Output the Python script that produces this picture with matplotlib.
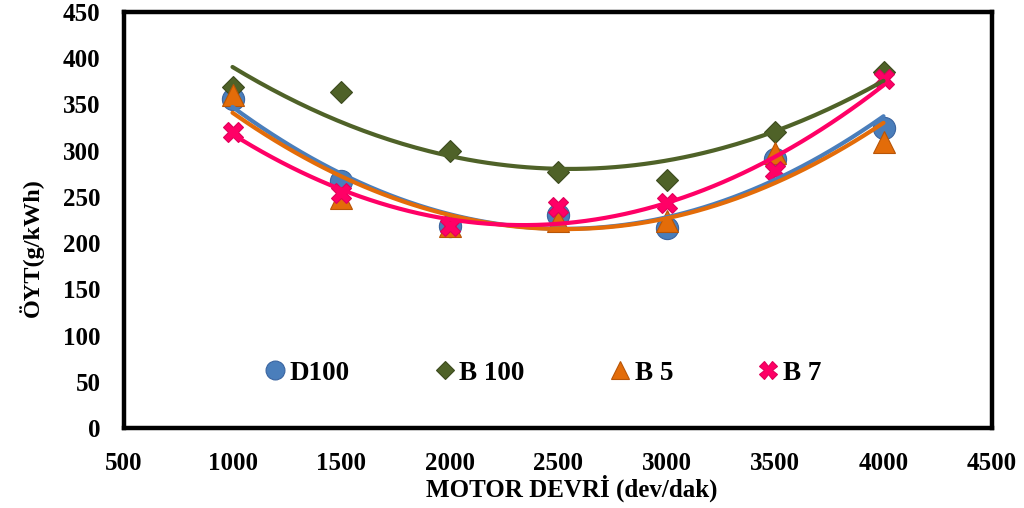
import numpy as np
import matplotlib
matplotlib.use("Agg")
import matplotlib.pyplot as plt
from matplotlib.lines import Line2D

plt.rcParams['font.family'] = ['Liberation Serif', 'DejaVu Serif']
plt.rcParams['font.weight'] = 'bold'

rpm = [1000, 1500, 2000, 2500, 3000, 3500, 4000]
d100 = [356, 267, 218, 230, 216, 291, 325]
b100 = [369, 363, 300, 277, 268, 320, 385]
b5 = [360, 249, 218, 224, 224, 297, 309]
b7 = [320, 254, 218, 239, 243, 278, 378]

series = [
    ("D100", d100, "o", 16, "#4A7EBB", "#3A64A0"),
    ("B 100", b100, "D", 11, "#4F6228", "#3C4A1E"),
    ("B 5", b5, "^", 16, "#E36C09", "#B85507"),
    ("B 7", b7, "X", 15, "#FF0066", "#E0005A"),
]

W, H = 1024, 508
fig = plt.figure(figsize=(W / 100, H / 100), dpi=100)
ax = fig.add_axes([124 / W, 1 - 428 / H, 868 / W, 416 / H])

xs = np.linspace(rpm[0], rpm[-1], 200)
handles = []
for name, vals, mk, ms, col, edge in series:
    ax.plot(rpm, vals, linestyle="none", marker=mk, markersize=ms,
            markerfacecolor=col, markeredgecolor=edge, markeredgewidth=0.8,
            zorder=2)
    coef = np.polyfit(rpm, vals, 2)
    ax.plot(xs, np.polyval(coef, xs), color=col, linewidth=3.0, zorder=3,
            solid_capstyle="round")
    handles.append(Line2D([], [], linestyle="none", marker=mk,
                          markersize=ms * 0.85,
                          markerfacecolor=col, markeredgecolor=edge,
                          markeredgewidth=0.8, label=name))

ax.set_xlim(500, 4500)
ax.set_ylim(0, 450)
ax.set_xticks(np.arange(500, 4501, 500))
ax.set_yticks(np.arange(0, 451, 50))
ax.tick_params(axis="x", length=0, labelsize=18, pad=17)
ax.tick_params(axis="y", length=0, labelsize=18, pad=17)
for lbl in ax.get_xticklabels() + ax.get_yticklabels():
    lbl.set_fontweight("bold")
for sp in ax.spines.values():
    sp.set_linewidth(3.2)
    sp.set_color("black")

fig.text(572 / W, 1 - 488 / H, "MOTOR DEVRİ (dev/dak)", fontsize=18,
         fontweight="bold", ha="center", va="center")
fig.text(31 / W, 1 - 248 / H, "ÖYT(g/kWh)", fontsize=17.5,
         fontweight="bold", ha="center", va="center", rotation=90)

leg = ax.legend(handles=handles, loc="center left", bbox_to_anchor=(0.13, 0.132),
                ncol=4, frameon=False, handletextpad=0.05, columnspacing=3.0,
                handlelength=1.0, prop={"size": 19.5, "weight": "bold"})

fig.savefig("out.png", dpi=100)
